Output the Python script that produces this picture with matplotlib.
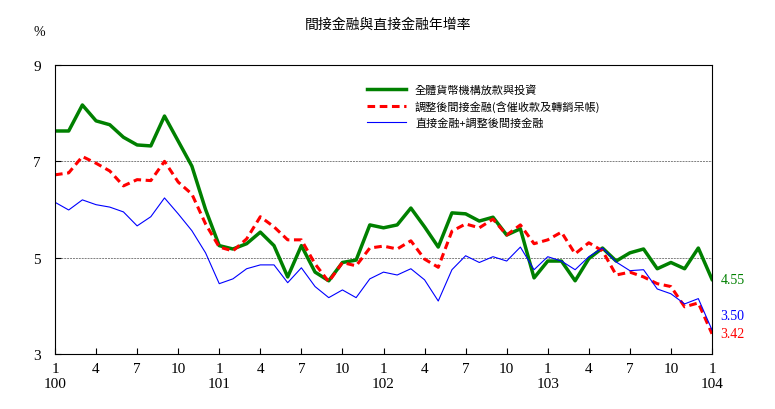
import numpy as np
from matplotlib import pyplot as plt

green = [7.63,7.63,8.17,7.84,7.76,7.5,7.34,7.32,7.94,7.42,6.9,6.0,
         5.25,5.18,5.29,5.53,5.25,4.6,5.25,4.7,4.52,4.9,4.95,5.68,
         5.62,5.68,6.03,5.64,5.22,5.93,5.91,5.76,5.84,5.47,5.6,4.58,
         4.93,4.93,4.52,4.98,5.2,4.93,5.1,5.18,4.77,4.9,4.77,5.2,4.55]
red = [6.72,6.76,7.1,6.96,6.8,6.49,6.62,6.6,7.0,6.57,6.32,5.7,
       5.22,5.14,5.39,5.85,5.64,5.37,5.37,4.87,4.5,4.9,4.83,5.2,
       5.24,5.18,5.35,4.97,4.8,5.55,5.7,5.62,5.8,5.47,5.68,5.29,
       5.37,5.53,5.08,5.31,5.14,4.64,4.7,4.6,4.46,4.4,3.98,4.06,3.42]
blue = [6.15,5.99,6.2,6.1,6.05,5.95,5.66,5.85,6.24,5.91,5.56,5.1,
        4.46,4.56,4.77,4.85,4.85,4.48,4.79,4.4,4.17,4.33,4.17,4.56,
        4.7,4.64,4.77,4.54,4.1,4.75,5.04,4.9,5.02,4.93,5.22,4.75,
        5.02,4.93,4.75,5.02,5.2,4.91,4.73,4.75,4.35,4.25,4.04,4.15,3.50]
tick_labels = ['1\n100','4','7','10','1\n101','4','7','10','1\n102','4','7','10',
               '1\n103','4','7','10','1\n104']
names = ['全體貨幣機構放款與投資', '調整後間接金融(含催收款及轉銷呆帳)', '直接金融+調整後間接金融']

cjk = 'Noto Sans CJK TC'
fig = plt.figure(figsize=(7.75, 4.10), dpi=100)
ax = fig.add_axes([55/775, 1-355/410, 657/775, 289/410])
x = np.arange(len(green))
ax.plot(x, green, color='#008000', lw=2.5, label=names[0])
ax.plot(x, red, color='red', lw=2.2, ls=(0, (2.5, 1.5)), label=names[1])
ax.plot(x, blue, color='blue', lw=0.8, label=names[2])
ax.set_xlim(0, 48)
ax.set_ylim(3, 9)
ax.set_yticks([3, 5, 7, 9])
ax.set_xticks(np.arange(0, 49, 3))
ax.set_xticklabels(tick_labels, fontfamily='Liberation Serif', fontsize=11)
for t in ax.get_yticklabels():
    t.set_fontfamily('Liberation Serif'); t.set_fontsize(11)
for yv in [5, 7]:
    ax.axhline(yv, color='gray', lw=0.7, ls=(0, (2, 1)), zorder=0)
ax.tick_params(direction='in', length=4)
ax.tick_params(axis='y', pad=10)
ax.tick_params(axis='x', pad=6)
ax.legend(loc='upper left', bbox_to_anchor=(0.46, 0.97), frameon=False,
          prop={'family': cjk, 'size': 8}, handlelength=3.5)
fig.text(0.5, 0.93, '間接金融與直接金融年增率', ha='center', fontfamily=cjk, fontsize=10)
fig.text(33/775, 1-36/410, '%', fontsize=10, fontfamily='Liberation Serif')
ax.annotate('4.55', (48, green[-1]), xytext=(6, 0), textcoords='offset points',
            color='#008000', va='center', fontfamily='Liberation Serif', fontsize=10, annotation_clip=False)
ax.annotate('3.50', (48, 3.8), xytext=(6, 0), textcoords='offset points',
            color='blue', va='center', fontfamily='Liberation Serif', fontsize=10, annotation_clip=False)
ax.annotate('3.42', (48, red[-1]), xytext=(6, 0), textcoords='offset points',
            color='red', va='center', fontfamily='Liberation Serif', fontsize=10, annotation_clip=False)
fig.savefig('out.png')
